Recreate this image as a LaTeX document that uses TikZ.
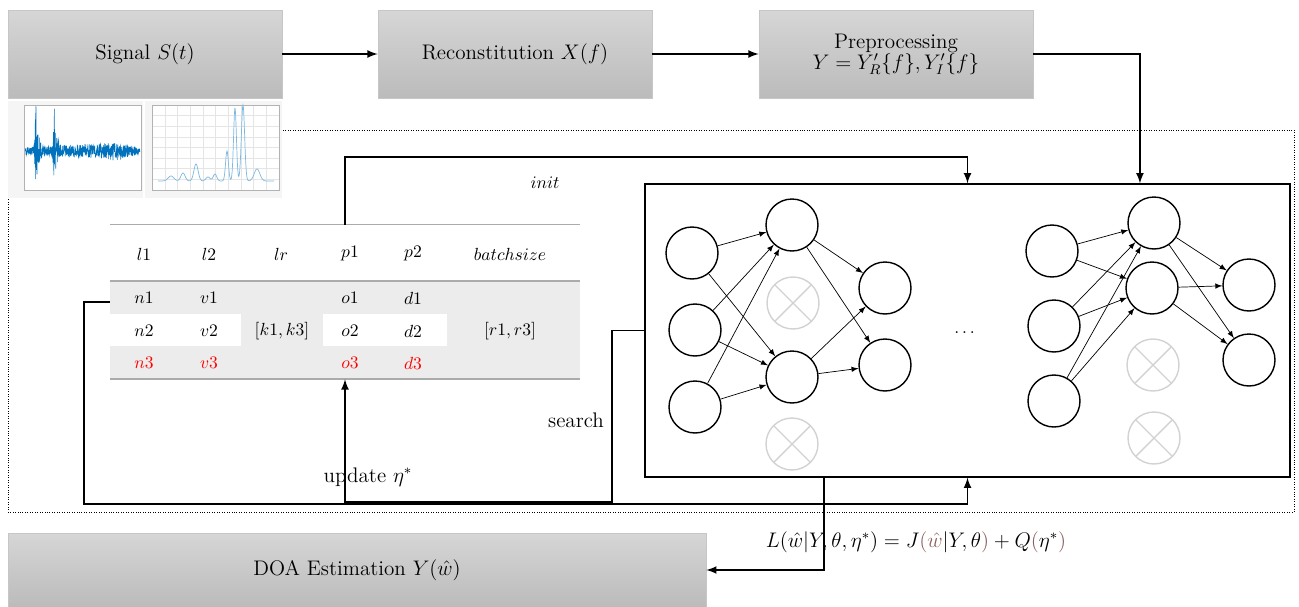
\documentclass[tikz,border=0pt]{standalone}
\usepackage{amsmath}
\usepackage{tikz}
\usetikzlibrary{positioning}
\definecolor{boxtop}{HTML}{D6D6D6}
\definecolor{boxbot}{HTML}{BBBBBB}
\definecolor{tablegray}{HTML}{ECECEC}
\definecolor{rulegray}{HTML}{ABABAB}
\definecolor{wave}{HTML}{0072BD}
\definecolor{spec}{HTML}{7DB9E2}
\definecolor{brownish}{HTML}{8C5F5F}

\begin{document}
\begin{tikzpicture}[x=0.02cm, y=-0.02cm, >=latex,
                          stagebox/.style={rectangle, draw=gray!45, top color=boxtop, bottom color=boxbot, minimum width=5.48cm, minimum height=1.76cm, align=center, font=\large},
                          neuron/.style={circle, draw, thick, minimum size=1.04cm, inner sep=0pt},
                          dropped/.style={circle, draw=gray!35, thick, minimum size=1.04cm, inner sep=0pt,
                              path picture={\draw[gray!35] (path picture bounding box.north west) -- (path picture bounding box.south east)
                                                           (path picture bounding box.north east) -- (path picture bounding box.south west);}},
                          link/.style={->, thin},
                          flow/.style={->, line width=1pt},
                          tablerule/.style={rulegray, line width=1.2pt},
                      ]
                      \useasboundingbox (0,0) rectangle (1299,606);

                      %Stages
                      \node[stagebox]    (signal)    at (145,54)     {Signal $S(t)$};
                      \node[stagebox]    (recon)     at (515,54)     {Reconstitution $X(f)$};
                      \node[stagebox]    (prep)      at (896,54)     {Preprocessing\\[-2pt] $Y = Y_R'\{f\}, Y_I'\{f\}$};
                      \node[stagebox, minimum width=13.96cm, minimum height=1.48cm] (doa) at (357,570) {DOA Estimation $Y(\hat{w})$};

                      %Signal plots
                      \fill[gray!8] (8,101) rectangle (143,198);
                      \fill[white] (24,105) rectangle (141,190);
                      \begin{scope}
                          \clip (24,106) rectangle (141,189);
                          \pgfmathsetseed{11}
                          \draw[wave, line width=0.3pt] plot[domain=25:140, samples=700]
                              (\x, {151 + (4 + 3*exp(-min(((\x-95)/40)^2,20)) + 3*exp(-min(((\x-115)/10)^2,20))
                                      + 38*exp(-min(((\x-36)/1)^2,20)) + 35*exp(-min(((\x-54)/1)^2,20))
                                      + 12*exp(-min(((\x-38)/3)^2,20)) + 12*exp(-min(((\x-56)/3)^2,20))
                                      - 1.5*exp(-min(((\x-138)/4)^2,20)))*rand});
                      \end{scope}
                      \draw[gray!60, very thin] (24,105) rectangle (141,190);
                      \fill[gray!8] (145,101) rectangle (282,198);
                      \fill[white] (152,105) rectangle (279,190);
                      \foreach \gx in {152,164.7,...,280} \draw[gray!20, very thin] (\gx,105) -- (\gx,190);
                      \foreach \gy in {105,115.6,...,191} \draw[gray!20, very thin] (152,\gy) -- (279,\gy);
                      \draw[gray!60, very thin] (152,105) rectangle (279,190);
                      \draw[spec, thin] plot[domain=158:274, samples=300]
                          (\x, {181 - 5*exp(-min(((\x-171)/4)^2,20)) - 8*exp(-min(((\x-183)/3)^2,20)) - 17*exp(-min(((\x-196)/3)^2,20))
                                     - 4*exp(-min(((\x-208)/3)^2,20)) - 7*exp(-min(((\x-215)/2.5)^2,20)) - 30*exp(-min(((\x-227)/2)^2,20))
                                     - 73*exp(-min(((\x-235)/2)^2,20)) - 76*exp(-min(((\x-243)/2.3)^2,20)) - 12*exp(-min(((\x-257)/4)^2,20))});

                      %Search frame
                      \draw[densely dotted, thin] (283,130) -- (1294,130) -- (1294,512) -- (8,512) -- (8,198);

                      %Network box
                      \node[draw, thick, minimum width=12.9cm, minimum height=5.86cm, inner sep=0pt] (nnbox) at (967.5,330.5) {};

                      %Left network
                      \node[neuron]  (in1)   at (692,253) {};
                      \node[neuron]  (in2)   at (695,330) {};
                      \node[neuron]  (in3)   at (695,407) {};
                      \node[neuron]  (hid1)  at (792,225) {};
                      \node[dropped] (drop1) at (793,303) {};
                      \node[neuron]  (hid2)  at (792,377) {};
                      \node[dropped] (drop2) at (792,444) {};
                      \node[neuron]  (out1)  at (885,288) {};
                      \node[neuron]  (out2)  at (885,365) {};
                      \foreach \i in {1,2,3} \foreach \j in {1,2} \draw[link] (in\i) -- (hid\j);
                      \foreach \i in {1,2} \foreach \j in {1,2} \draw[link] (hid\i) -- (out\j);

                      \node (dots) at (966,333) {$\dots$};

                      %Right network
                      \node[neuron]  (rin1)   at (1052,251) {};
                      \node[neuron]  (rin2)   at (1054,326) {};
                      \node[neuron]  (rin3)   at (1054,401) {};
                      \node[neuron]  (rhid1)  at (1154,223) {};
                      \node[neuron]  (rhid2)  at (1152,288) {};
                      \node[dropped] (rdrop1) at (1153,365) {};
                      \node[dropped] (rdrop2) at (1154,438) {};
                      \node[neuron]  (rout1)  at (1249,285) {};
                      \node[neuron]  (rout2)  at (1249,360) {};
                      \foreach \i in {1,2,3} \foreach \j in {1,2} \draw[link] (rin\i) -- (rhid\j);
                      \foreach \i in {1,2} \foreach \j in {1,2} \draw[link] (rhid\i) -- (rout\j);

                      %Hyperparameter table
                      \node[minimum width=9.4cm, minimum height=1.12cm, inner sep=0pt] (thead) at (345,253) {};
                      \node[fill=tablegray, minimum width=9.4cm, minimum height=1.96cm, inner sep=0pt] (tbody) at (345,330) {};
                      \fill[white] (110,314) rectangle (241,346);
                      \fill[white] (323,314) rectangle (447,346);
                      \draw[rulegray, semithick] (thead.north west) -- (thead.north east);
                      \draw[tablerule] (tbody.north west) -- (tbody.north east);
                      \draw[tablerule] (tbody.south west) -- (tbody.south east);

                      \node (hl1)   at (144,254) {$l1$};
                      \node (hl2)   at (209,254) {$l2$};
                      \node (hlr)   at (281,254) {$lr$};
                      \node (hp1)   at (350,254) {$p1$};
                      \node (hp2)   at (413,254) {$p2$};
                      \node (hbs)   at (510,254) {$batchsize$};

                      \node (cn1)   at (144,298) {$n1$};
                      \node (cv1)   at (209,298) {$v1$};
                      \node (co1)   at (350,298) {$o1$};
                      \node (cd1)   at (413,298) {$d1$};
                      \node (cn2)   at (144,331) {$n2$};
                      \node (cv2)   at (209,331) {$v2$};
                      \node (clr)   at (282,331) {$[k1,k3]$};
                      \node (co2)   at (350,331) {$o2$};
                      \node (cd2)   at (413,331) {$d2$};
                      \node (cbs)   at (510,331) {$[r1,r3]$};
                      \node[red] (cn3) at (144,363) {$n3$};
                      \node[red] (cv3) at (209,363) {$v3$};
                      \node[red] (co3) at (350,363) {$o3$};
                      \node[red] (cd3) at (413,363) {$d3$};

                      %Lines
                      \draw[flow] (signal) -- (recon);
                      \draw[flow] (recon) -- (prep);
                      \draw[flow] (prep.east) -| ([xshift=3.45cm]nnbox.north);
                      \draw[flow] (thead.north) -- ++(0,-68) -| (nnbox.north);
                      \node (init) at (545,183) {$init$};

                      \coordinate (loopcorner)   at (84,504);
                      \coordinate (searchcorner) at (612,502);
                      \draw[flow] ([yshift=0.56cm]tbody.west) -| (loopcorner) -| (nnbox.south);
                      \draw[flow] (nnbox.west) -| (searchcorner) -| (tbody.south);
                      \node[font=\large] (search) at (576,420) {search};
                      \node[font=\large] (update) at (368,477) {update $\eta^*$};

                      \draw[flow] ([xshift=-2.87cm]nnbox.south) |- (doa.east);
                      \node[font=\fontsize{12}{14}\selectfont] (loss) at (916,542)
                          {$L(\hat{w}|Y,\theta,\eta^*) = J\textcolor{brownish}{(\hat{w}}|Y,\theta\textcolor{brownish}{)} + Q\textcolor{brownish}{(}\eta^*\textcolor{brownish}{)}$};
                  \end{tikzpicture}
\end{document}
